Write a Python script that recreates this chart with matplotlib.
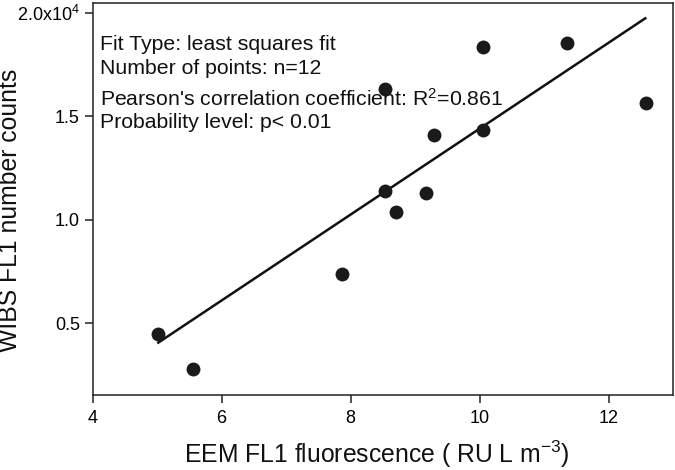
import numpy as np
import matplotlib
matplotlib.use('Agg')
import matplotlib.pyplot as plt

plt.rcParams['font.family'] = ['Liberation Sans', 'DejaVu Sans']
plt.rcParams['mathtext.default'] = 'regular'

# data
eem_fl1 = [5.02, 5.56, 7.87, 8.54, 8.70, 8.54, 9.17, 9.29, 10.06, 10.06, 11.36, 12.58]
wibs_fl1 = [4490, 2790, 7380, 11390, 10370, 16330, 11310, 14110, 14340, 18350, 18560, 15650]
fit_x = [5.02, 12.57]
fit_y = [4060, 19730]

xticks = [4, 6, 8, 10, 12]
yticks = [5000, 10000, 15000, 20000]
ytick_labels = ['0.5', '1.0', '1.5', '2.0x10$^{4}$']

notes = ['Fit Type: least squares fit',
         'Number of points: n=12',
         "Pearson's correlation coefficient: R$^{2}$=0.861",
         'Probability level: p< 0.01']

W, H = 675, 470
fig = plt.figure(figsize=(W / 100, H / 100), dpi=100)
ax = fig.add_axes([92.5 / W, 1 - 395 / H, (673 - 92.5) / W, (395 - 3) / H])

ax.plot(fit_x, fit_y, color='#111111', lw=1.8, zorder=2)
ax.scatter(eem_fl1, wibs_fl1, s=100, color='#1a1a1a', zorder=3, linewidths=0)

ax.set_xlim(4, 13)
ax.set_ylim(1530, 20470)
ax.set_xticks(xticks)
ax.set_yticks(yticks)
ax.set_yticklabels(ytick_labels)
ax.tick_params(direction='out', length=5.5, width=1.1, labelsize=13, color='#222222')
ax.tick_params(axis='x', pad=5)
ax.tick_params(axis='y', pad=3.5)
for sp in ax.spines.values():
    sp.set_linewidth(1.1)
    sp.set_color('#222222')

fig.text(376.5 / W, 1 - 463 / H, 'EEM FL1 fluorescence ( RU L m$^{-3}$)',
         fontsize=17.8, ha='center', va='baseline', color='#111111')
fig.text(10.5 / W, 1 - 210 / H, 'WIBS FL1 number counts', rotation=90,
         fontsize=17.8, ha='center', va='center', color='#111111')

ys = [45, 68, 99, 122]
for t, py in zip(notes, ys):
    fig.text(100 / W, 1 - py / H, t, fontsize=15.3, va='center', ha='left', color='#111111')

fig.savefig('out.png', dpi=100)
